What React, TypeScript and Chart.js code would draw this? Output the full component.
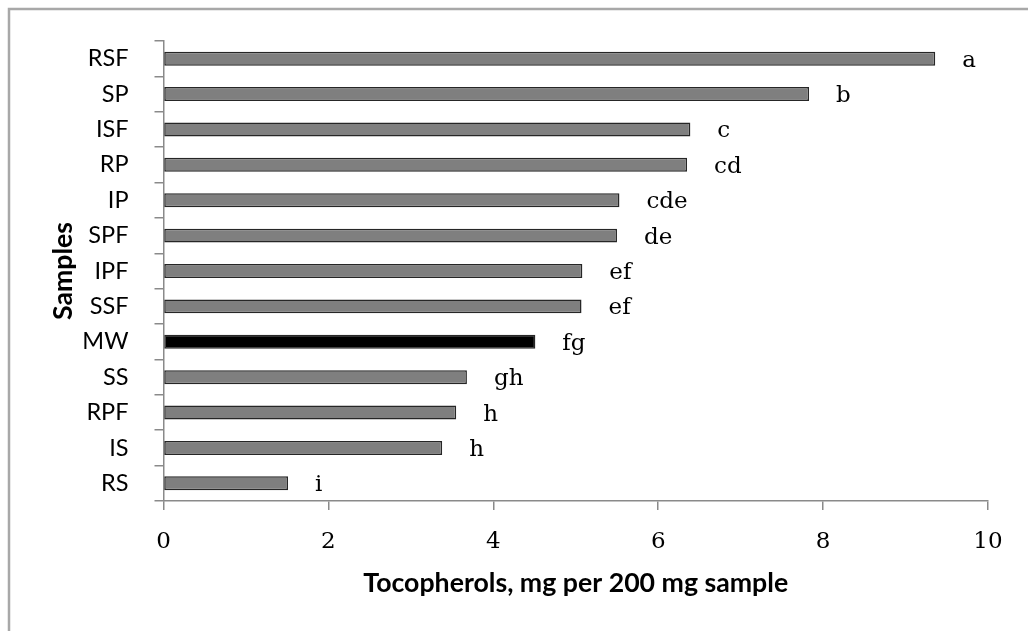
import React, { useEffect, useRef } from "react";
import { Chart, registerables } from "chart.js";

Chart.register(...registerables);

const categories = ["RSF", "SP", "ISF", "RP", "IP", "SPF", "IPF", "SSF", "MW", "SS", "RPF", "IS", "RS"];
const tocopherols = [9.36, 7.83, 6.39, 6.35, 5.53, 5.5, 5.08, 5.07, 4.51, 3.68, 3.55, 3.38, 1.51];
const groupLetters = ["a", "b", "c", "cd", "cde", "de", "ef", "ef", "fg", "gh", "h", "h", "i"];
const xTicks = [0, 2, 4, 6, 8, 10];
const xTitle = "Tocopherols, mg per 200 mg sample";
const yTitle = "Samples";
const highlighted = "MW";

const framePlugin = {
  id: "frame",
  beforeDraw(chart: any) {
    const ctx = chart.ctx;
    ctx.save();
    ctx.fillStyle = "#ffffff";
    ctx.fillRect(0, 0, chart.width, chart.height);
    ctx.strokeStyle = "#a8a8a8";
    ctx.lineWidth = 2.5;
    ctx.beginPath();
    ctx.moveTo(9, chart.height + 5);
    ctx.lineTo(9, 9);
    ctx.lineTo(chart.width + 5, 9);
    ctx.stroke();
    ctx.restore();
  },
};

const lettersPlugin = {
  id: "letters",
  afterDatasetsDraw(chart: any) {
    const ctx = chart.ctx;
    const meta = chart.getDatasetMeta(0);
    ctx.save();
    ctx.font = "23px 'DejaVu Serif'";
    ctx.fillStyle = "#000000";
    ctx.textAlign = "left";
    ctx.textBaseline = "middle";
    meta.data.forEach((bar: any, i: number) => {
      ctx.fillText(groupLetters[i], bar.x + 27, bar.y + 2);
    });
    ctx.restore();
  },
};

export default function App() {
  const ref = useRef<HTMLCanvasElement | null>(null);

  useEffect(() => {
    if (!ref.current) return;
    const chart = new Chart(ref.current, {
      type: "bar",
      data: {
        labels: categories,
        datasets: [
          {
            data: tocopherols,
            backgroundColor: categories.map((c) => (c === highlighted ? "#000000" : "#7f7f7f")),
            borderColor: "#262626",
            borderWidth: 1.5,
            borderSkipped: false,
            barPercentage: 0.395,
            categoryPercentage: 1,
          },
        ],
      },
      options: {
        indexAxis: "y",
        animation: false,
        responsive: false,
        devicePixelRatio: 1,
        layout: { padding: { top: 41, right: 40, left: 0, bottom: 0 } },
        plugins: {
          legend: { display: false },
          tooltip: { enabled: false },
        },
        scales: {
          x: {
            type: "linear",
            min: 0,
            max: 10,
            afterFit: (scale: any) => {
              scale.height = 130;
            },
            afterBuildTicks: (scale: any) => {
              scale.ticks = xTicks.map((v) => ({ value: v }));
            },
            ticks: {
              color: "#000000",
              padding: 18,
              font: { family: "'DejaVu Serif'", size: 23 },
            },
            grid: {
              drawOnChartArea: false,
              drawTicks: true,
              tickLength: 9,
              color: "#8a8a8a",
              lineWidth: 1.5,
            },
            border: { display: true, color: "#8a8a8a", width: 1.5 },
            title: {
              display: true,
              text: xTitle,
              color: "#000000",
              font: { family: "Lato", size: 26.7, weight: "bold" },
              padding: { top: 0, bottom: 32 },
            },
          },
          y: {
            type: "category",
            afterFit: (scale: any) => {
              scale.width = 163.5;
            },
            ticks: {
              color: "#000000",
              padding: 26,
              autoSkip: false,
              font: { family: "Lato", size: 23.5 },
            },
            grid: {
              offset: true,
              drawOnChartArea: false,
              drawTicks: true,
              tickLength: 9,
              color: "#8a8a8a",
              lineWidth: 1.5,
            },
            border: { display: true, color: "#8a8a8a", width: 1.5 },
            title: {
              display: true,
              text: yTitle,
              color: "#000000",
              font: { family: "Lato", size: 26.7, weight: "bold" },
              padding: { top: 47.5, bottom: 0 },
            },
          },
        },
      },
      plugins: [framePlugin, lettersPlugin],
    });
    return () => chart.destroy();
  }, []);

  return (
    <div style={{ position: "absolute", left: 0, top: 0, width: 1028, height: 631, background: "#fff" }}>
      <canvas ref={ref} width={1028} height={631} style={{ display: "block" }} />
    </div>
  );
}
